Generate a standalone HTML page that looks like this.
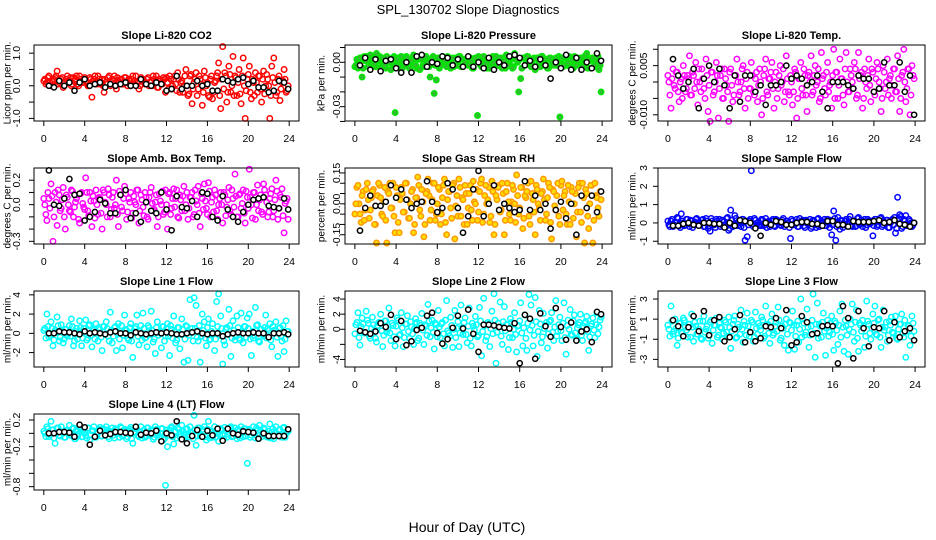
<!DOCTYPE html>
<html><head><meta charset="utf-8"><title>SPL_130702 Slope Diagnostics</title>
<style>
html,body{margin:0;padding:0;background:#fff;}
svg{display:block;font-family:"Liberation Sans",Arial,sans-serif;}
</style></head>
<body>
<svg id="chart" width="936" height="540" viewBox="0 0 936 540" xmlns="http://www.w3.org/2000/svg">
<rect x="0" y="0" width="936" height="540" fill="#fff"/>
<text x="468" y="14" text-anchor="middle" font-size="13">SPL_130702  Slope Diagnostics</text>
<text x="467" y="532" text-anchor="middle" font-size="14">Hour of Day (UTC)</text>
</svg>
<script>
const colHours = [0.1,0.3,0.5,0.7,0.9,1.1,1.3,1.5,1.7,1.9,2.1,2.3,2.5,2.7,2.9,3.1,3.3,3.5,3.7,3.9,4.1,4.3,4.5,4.7,4.9,5.1,5.3,5.5,5.7,5.9,6.1,6.3,6.5,6.7,6.9,7.1,7.3,7.5,7.7,7.9,8.1,8.3,8.5,8.7,8.9,9.1,9.3,9.5,9.7,9.9,10.1,10.3,10.5,10.7,10.9,11.1,11.3,11.5,11.7,11.9,12.1,12.3,12.5,12.7,12.9,13.1,13.3,13.5,13.7,13.9,14.1,14.3,14.5,14.7,14.9,15.1,15.3,15.5,15.7,15.9,16.1,16.3,16.5,16.7,16.9,17.1,17.3,17.5,17.7,17.9,18.1,18.3,18.5,18.7,18.9,19.1,19.3,19.5,19.7,19.9,20.1,20.3,20.5,20.7,20.9,21.1,21.3,21.5,21.7,21.9,22.1,22.3,22.5,22.7,22.9,23.1,23.3,23.5,23.7,23.9];
const colHours2 = [0.0,0.2,0.4,0.6,0.8,1.0,1.2,1.4,1.6,1.8,2.0,2.2,2.4,2.6,2.8,3.0,3.2,3.4,3.6,3.8,4.0,4.2,4.4,4.6,4.8,5.0,5.2,5.4,5.6,5.8,6.0,6.2,6.4,6.6,6.8,7.0,7.2,7.4,7.6,7.8,8.0,8.2,8.4,8.6,8.8,9.0,9.2,9.4,9.6,9.8,10.0,10.2,10.4,10.6,10.8,11.0,11.2,11.4,11.6,11.8,12.0,12.2,12.4,12.6,12.8,13.0,13.2,13.4,13.6,13.8,14.0,14.2,14.4,14.6,14.8,15.0,15.2,15.4,15.6,15.8,16.0,16.2,16.4,16.6,16.8,17.0,17.2,17.4,17.6,17.8,18.0,18.2,18.4,18.6,18.8,19.0,19.2,19.4,19.6,19.8,20.0,20.2,20.4,20.6,20.8,21.0,21.2,21.4,21.6,21.8,22.0,22.2,22.4,22.6,22.8,23.0,23.2,23.4,23.6,23.8];
const blkHours = [0.5,1.0,1.5,2.0,2.5,3.0,3.5,4.0,4.5,5.0,5.5,6.0,6.5,7.0,7.5,8.0,8.5,9.0,9.5,10.0,10.5,11.0,11.5,12.0,12.5,13.0,13.5,14.0,14.5,15.0,15.5,16.0,16.5,17.0,17.5,18.0,18.5,19.0,19.5,20.0,20.5,21.0,21.5,22.0,22.5,23.0,23.5,23.9];
const xTicks = [0,4,8,12,16,20,24];

const co2Col = [0.2,0.1,0.3,0.0,0.15,0.25,0.45,0.1,0.2,-0.05, 0.1,0.3,0.15,0.0,0.25,0.2,0.05,0.3,0.1,0.2, 0.15,0.0,0.25,-0.35,0.2,0.1,0.3,0.05,0.2,-0.2, 0.1,0.25,0.0,0.2,0.3,-0.1,0.15,0.2,0.05,0.25, 0.1,0.2,0.0,0.3,0.15,0.1,-0.1,0.25,0.2,0.05, 0.2,0.0,0.15,0.3,0.1,-0.05,0.2,0.1,0.25,-0.2, 0.1,0.3,-0.1,0.2,0.05,0.4,-0.2,0.15,0.0,0.5, -0.3,0.3,-0.55,0.1,0.4,-0.1,0.2,-0.6,0.45,0.0, -0.3,0.2,-0.4,0.1,0.3,0.7,-0.7,1.2,0.4,-0.5, 0.6,-0.2,0.9,0.3,-0.3,0.5,-0.55,0.85,-1.0,0.2, 0.6,-0.4,0.1,0.4,-0.2,0.3,-0.5,0.45,0.0,0.2, -1.0,0.6,0.85,-0.3,0.2,-0.45,0.1,0.5,-0.2,0.0];
const co2Col2 = [0.15,0.05,0.25,0.1,0.0,0.2,0.3,0.05,0.15,0.25, 0.0,0.2,0.1,0.25,0.05,0.15,0.3,0.0,0.2,0.1, 0.25,0.1,0.0,0.2,0.15,0.3,0.05,0.2,0.1,0.0, 0.2,0.05,0.3,0.1,0.15,0.0,0.25,0.1,0.2,0.05, 0.25,0.0,0.15,0.2,0.05,0.3,0.1,0.0,0.2,0.15, 0.05,0.25,0.1,0.0,0.2,0.3,-0.05,0.15,0.05,0.2, 0.25,-0.1,0.2,0.0,0.3,-0.15,0.2,0.1,-0.2,0.3, 0.0,-0.25,0.35,-0.1,0.2,-0.3,0.3,0.05,-0.2,0.25, 0.1,-0.35,0.3,-0.2,0.15,0.4,-0.3,0.2,-0.1,0.3, -0.2,0.35,0.0,-0.3,0.25,0.1,-0.25,0.3,0.0,-0.15, 0.35,-0.2,0.2,-0.3,0.1,0.3,-0.1,0.2,-0.25,0.35, 0.0,-0.3,0.25,0.1,-0.2,0.3,-0.1,0.15,0.2,-0.15];
const co2Blk = [0.0,-0.05,0.15,0.0,0.1,-0.15,0.1,0.2,0.0,0.05,0.1,-0.05,0.05,0.0,0.05,0.1,0.0,0.0,0.2,0.05,0.0,0.1,0.05,-0.15,-0.1,0.3,-0.1,0.0,0.0,0.15,0.0,0.05,-0.15,-0.15,0.2,0.15,0.1,0.2,0.25,0.05,0.15,-0.05,-0.05,-0.2,-0.15,0.15,0.1,-0.1];

const presCol = [-0.002,-0.004,0.003,-0.01,0.004,0.001,-0.003,0.005,0.002,-0.001, 0.006,0.002,-0.004,0.003,-0.002,0.004,0.000,-0.005,0.003,-0.034, 0.002,-0.003,0.004,0.000,-0.002,0.003,-0.004,0.001,0.005,-0.002, 0.003,-0.005,0.002,-0.003,0.004,0.000,-0.01,0.002,-0.021,-0.012, 0.003,-0.002,0.004,0.001,-0.003,0.002,-0.004,0.003,0.000,-0.002, 0.004,-0.003,0.002,0.000,0.003,-0.002,0.001,-0.004,0.003,-0.036, 0.002,-0.003,0.004,-0.001,0.002,-0.004,0.003,0.000,0.004,-0.002, 0.003,-0.004,0.001,0.005,-0.002,0.003,-0.004,0.006,0.002,-0.02, -0.011,0.003,-0.002,0.004,0.001,-0.003,0.002,-0.005,0.003,0.000, 0.004,-0.002,0.002,-0.004,0.003,0.000,-0.002,0.003,0.001,-0.037, 0.003,-0.002,0.004,0.000,-0.003,0.002,0.004,-0.002,0.001,0.003, -0.003,0.004,0.006,0.002,-0.004,0.003,-0.002,0.004,-0.005,-0.02];
const presCol2 = [-0.003,0.002,-0.001,0.003,-0.004,0.001,0.004,-0.002,0.000,0.003, -0.003,0.001,0.004,-0.002,0.002,-0.004,0.003,0.000,-0.001,0.004, -0.002,0.003,0.000,-0.004,0.002,0.004,-0.001,-0.003,0.003,0.001, -0.004,0.002,0.004,-0.002,0.000,0.003,-0.003,0.001,0.004,-0.002, 0.002,-0.004,0.003,0.000,-0.002,0.004,-0.001,0.002,-0.003,0.003, -0.001,0.004,-0.003,0.002,0.000,-0.002,0.003,-0.004,0.001,0.002, 0.004,-0.002,0.000,0.003,-0.004,0.002,-0.001,0.004,-0.003,0.001, -0.002,0.003,0.001,-0.004,0.004,-0.001,0.002,-0.003,0.003,0.000, 0.002,-0.004,0.003,-0.001,0.004,-0.002,0.000,0.003,-0.003,0.002, -0.003,0.004,0.000,0.002,-0.004,0.003,-0.001,0.002,-0.002,0.004, 0.001,-0.003,0.003,-0.002,0.004,0.000,-0.004,0.002,0.003,-0.001, 0.002,-0.002,0.004,-0.004,0.001,0.003,-0.003,0.000,0.004,-0.002];
const presBlk = [-0.002,0.003,-0.005,0.002,-0.006,0.001,0.002,-0.004,-0.007,0.000,-0.007,0.004,0.005,-0.003,0.000,-0.001,0.004,0.003,-0.002,0.002,-0.003,0.004,-0.003,0.000,-0.004,0.003,-0.005,0.000,-0.002,0.004,0.005,0.003,-0.002,0.001,-0.003,0.002,-0.002,-0.011,0.000,-0.004,0.005,-0.005,0.003,-0.005,0.000,-0.004,0.006,0.001];

const tempCol = [0.000,-0.008,0.004,-0.002,0.003,-0.006,0.001,0.005,-0.003,0.002, 0.008,-0.004,0.002,0.006,-0.007,0.000,0.004,-0.002,0.007,-0.009, -0.012,0.003,-0.003,0.006,-0.011,0.002,-0.005,0.004,-0.001,-0.012, 0.004,-0.006,0.002,0.007,-0.004,0.000,0.005,-0.008,0.003,-0.002, 0.006,-0.003,0.001,-0.006,0.004,-0.010,0.002,0.007,-0.004,0.001, 0.006,-0.008,0.003,-0.002,0.005,0.000,-0.006,0.008,-0.003,0.002, -0.007,0.004,-0.011,0.001,0.006,-0.004,0.002,-0.009,0.003,0.008, -0.003,0.005,0.000,-0.006,0.009,0.002,-0.004,0.006,-0.001,-0.008, 0.010,0.003,-0.005,0.007,0.001,-0.007,0.009,-0.003,0.004,0.000, 0.006,-0.005,0.009,0.002,-0.008,0.004,-0.002,0.007,-0.006,0.003, -0.004,0.006,0.000,-0.009,0.005,-0.002,0.007,0.001,-0.005,0.004, -0.003,0.008,-0.009,0.002,0.010,-0.006,0.004,-0.010,0.005,0.001];
const tempCol2 = [0.002,-0.004,0.001,-0.001,0.003,-0.003,0.000,-0.005,0.002,-0.002, 0.001,-0.004,0.003,-0.002,0.000,0.004,-0.003,0.001,-0.005,0.002, -0.001,0.003,-0.004,0.000,0.002,-0.002,0.004,-0.005,0.001,-0.003, 0.003,-0.001,-0.004,0.002,0.000,-0.003,0.004,-0.002,0.001,-0.005, -0.002,0.002,-0.004,0.003,-0.001,0.000,-0.005,0.004,-0.003,0.001, 0.003,-0.002,0.000,-0.005,0.002,-0.001,0.004,-0.003,0.001,-0.004, 0.000,-0.003,0.003,-0.005,0.001,-0.002,0.004,-0.004,0.002,0.000, -0.004,0.002,-0.001,0.004,-0.005,0.001,-0.002,0.003,-0.003,0.000, 0.002,-0.005,0.003,-0.001,0.001,-0.004,0.004,0.000,-0.003,0.002, -0.002,0.004,-0.004,0.001,0.003,-0.005,0.000,0.002,-0.001,0.004, -0.003,0.001,0.004,-0.002,-0.005,0.003,0.000,-0.004,0.002,-0.001, 0.004,-0.003,0.001,-0.005,0.003,0.000,-0.002,0.004,-0.004,0.002];
const tempBlk = [0.007,0.002,-0.002,0.000,0.004,-0.008,0.001,0.005,0.000,0.004,-0.001,-0.008,0.002,-0.006,0.002,0.002,-0.003,-0.001,-0.007,-0.001,-0.001,0.000,0.005,0.001,0.002,0.001,-0.001,0.000,0.002,-0.003,-0.008,0.000,0.000,0.000,-0.001,-0.002,0.002,0.001,0.001,-0.003,-0.002,0.006,-0.001,-0.001,0.006,-0.003,0.002,-0.010];

const ambCol = [0.0,-0.13,0.05,0.17,-0.3,0.1,-0.17,0.08,-0.03,0.14, -0.2,0.06,-0.05,0.12,-0.1,0.02,0.08,-0.15,0.1,-0.02, 0.22,-0.05,0.1,-0.18,0.03,0.12,-0.08,0.05,-0.2,0.1, 0.0,0.13,-0.1,0.06,-0.03,0.2,-0.18,0.08,-0.05,0.15, -0.12,0.05,0.1,-0.07,0.02,0.12,-0.15,0.08,-0.02,0.1, -0.1,0.06,0.14,-0.05,0.02,-0.18,0.09,0.0,-0.08,0.12, -0.2,0.1,-0.03,0.13,0.05,-0.1,0.08,-0.05,0.15,0.0, -0.12,0.06,0.1,-0.08,0.03,0.15,-0.18,0.05,0.17,-0.03, 0.18,-0.1,0.06,0.12,-0.05,0.0,0.1,-0.15,0.08,-0.02, 0.14,-0.08,0.05,0.25,-0.1,0.08,-0.03,0.12,-0.15,0.06, 0.29,0.0,0.1,-0.12,0.16,0.04,-0.06,0.17,0.08,-0.1, 0.05,0.13,-0.05,0.2,-0.12,0.08,0.13,-0.23,0.03,-0.12];
const ambCol2 = [0.05,-0.08,0.1,-0.03,0.07,-0.1,0.02,0.12,-0.05,0.04, -0.1,0.08,0.0,-0.06,0.11,-0.02,0.05,-0.12,0.09,0.01, -0.04,0.1,-0.09,0.03,0.07,-0.11,0.0,0.06,-0.07,0.12, 0.02,-0.1,0.08,-0.04,0.1,0.0,-0.08,0.11,-0.02,0.05, 0.09,-0.06,0.02,-0.11,0.07,0.0,0.12,-0.05,0.04,-0.09, 0.06,-0.12,0.1,0.01,-0.04,0.08,-0.1,0.03,0.11,-0.06, 0.0,0.09,-0.08,0.05,-0.02,0.12,-0.11,0.04,0.07,-0.05, 0.1,-0.03,0.06,-0.1,0.12,0.0,-0.07,0.09,-0.04,0.03, -0.08,0.11,0.02,-0.06,0.08,-0.12,0.05,0.0,0.1,-0.09, 0.04,-0.05,0.12,-0.02,0.07,-0.1,0.09,0.01,-0.07,0.11, -0.03,0.06,-0.11,0.1,0.0,-0.05,0.08,-0.08,0.12,0.02, -0.06,0.09,-0.1,0.04,0.11,-0.03,0.06,-0.09,0.01,0.05];
const ambBlk = [0.28,0.0,-0.01,0.05,0.21,0.08,0.09,-0.13,-0.1,-0.06,0.04,0.01,-0.07,-0.07,0.08,0.12,-0.11,-0.07,-0.14,0.02,-0.05,-0.07,0.1,-0.04,-0.21,0.07,-0.02,-0.03,0.03,-0.1,0.1,0.09,-0.1,-0.13,0.07,-0.04,-0.1,-0.14,-0.06,0.0,0.04,0.05,0.06,-0.01,-0.02,-0.03,0.05,-0.04];

const rhCol = [0.0,0.09,-0.05,0.04,-0.08,0.07,0.02,-0.03,0.06,-0.1, -0.19,0.1,0.03,-0.06,0.08,-0.19,0.05,-0.02,0.1,-0.14, 0.04,-0.14,0.08,-0.04,0.1,0.02,-0.07,0.06,-0.14,0.03, 0.13,-0.03,0.07,-0.16,0.05,0.12,-0.08,0.02,0.1,-0.05, 0.08,-0.1,0.03,0.12,-0.15,0.06,-0.02,0.09,-0.17,0.04, 0.12,-0.06,0.02,0.09,-0.1,0.05,-0.03,0.11,0.0,-0.08, 0.06,0.12,-0.05,0.09,0.02,-0.09,0.11,-0.15,0.04,0.08, -0.04,0.1,-0.15,0.06,0.01,-0.08,0.09,0.0,0.14,-0.05, 0.08,-0.12,0.04,0.06,-0.06,0.11,0.02,-0.15,0.07,-0.02, 0.05,0.12,-0.08,0.03,0.08,-0.17,0.06,-0.03,0.1,-0.1, 0.11,0.04,-0.05,0.09,-0.1,0.06,0.0,-0.16,0.08,-0.04, 0.1,-0.19,0.05,-0.12,0.09,-0.19,0.1,0.03,-0.06,0.02];
const rhCol2 = [-0.05,0.08,0.0,-0.09,0.06,-0.03,0.1,-0.07,0.03,0.07, -0.1,0.04,0.09,-0.05,0.01,-0.08,0.06,0.1,-0.02,-0.06, 0.08,-0.09,0.02,0.05,-0.04,0.1,-0.07,0.0,0.07,-0.1, 0.03,0.09,-0.06,0.01,-0.1,0.06,0.04,-0.03,0.1,-0.08, 0.0,0.07,-0.05,0.09,-0.09,0.02,0.06,-0.07,0.1,-0.01, -0.06,0.08,0.03,-0.1,0.05,-0.02,0.09,-0.08,0.01,0.07, -0.04,0.1,-0.09,0.04,0.0,0.08,-0.06,0.06,-0.1,0.02, 0.09,-0.03,0.05,-0.08,0.1,-0.05,0.01,0.07,-0.09,0.04, -0.02,0.08,-0.07,0.03,0.1,-0.1,0.05,-0.04,0.09,0.0, -0.08,0.06,0.02,-0.05,0.1,-0.09,0.07,-0.01,0.04,-0.06, 0.09,-0.03,0.06,-0.1,0.01,0.08,-0.07,0.05,-0.04,0.1, -0.09,0.03,0.07,-0.06,0.0,0.09,-0.08,0.04,-0.02,0.06];
const rhBlk = [-0.13,-0.02,0.04,-0.01,-0.01,0.01,0.09,0.03,0.07,0.02,-0.02,0.00,0.01,0.11,0.01,-0.04,-0.02,0.1,0.07,-0.02,-0.14,-0.06,0.07,0.16,-0.06,0.00,0.09,-0.03,0.00,-0.02,-0.04,-0.03,0.11,-0.03,0.04,-0.03,0.00,-0.12,-0.03,0.01,-0.07,0.00,-0.15,0.04,-0.02,0.04,-0.04,0.06];

const sampCol = [-0.1,0.1,-0.2,0.05,0.3,-0.15,0.5,0.0,-0.1,0.2, -0.2,0.1,-0.05,0.2,-0.1,0.0,0.15,-0.2,0.25,-0.3, -0.45,0.1,-0.1,0.2,0.0,-0.2,0.15,-0.1,0.25,-0.4, 0.7,-0.2,0.4,0.0,0.1,-0.2,0.2,-0.95,-0.75,0.1, 2.85,-0.2,0.15,0.0,-0.1,0.2,-0.15,0.25,0.0,-0.2, 0.1,-0.15,0.2,0.0,-0.1,0.15,-0.2,0.1,0.0,-0.85, 0.1,-0.1,0.2,-0.2,0.05,0.15,-0.25,0.1,0.0,-0.3, 0.15,-0.1,0.2,-0.2,0.1,0.0,-0.15,0.2,-0.25,-0.65, 0.65,-0.95,0.3,-0.35,0.1,-0.1,0.2,0.0,0.35,-0.2, 0.1,-0.15,0.3,0.0,-0.2,0.2,-0.1,0.1,0.0,-0.7, 0.2,-0.2,0.1,0.3,-0.1,0.0,0.15,-0.25,0.1,-0.1, -0.55,1.4,0.45,-0.3,0.2,0.4,-0.1,0.1,-0.2,0.0];
const sampCol2 = [0.1,-0.2,0.2,-0.1,0.0,0.25,-0.25,0.1,-0.15,0.2, -0.05,0.15,-0.25,0.05,0.25,-0.1,0.0,0.2,-0.2,0.1, -0.15,0.25,0.0,-0.25,0.1,0.2,-0.1,0.05,-0.2,0.3, -0.3,0.15,-0.05,0.25,-0.15,0.0,0.2,-0.25,0.1,-0.1, 0.2,-0.05,0.25,-0.2,0.05,-0.15,0.15,0.0,-0.25,0.1, -0.1,0.2,-0.2,0.15,0.0,-0.15,0.25,-0.05,0.1,-0.25, 0.2,-0.1,0.05,-0.2,0.25,0.0,-0.15,0.15,-0.05,0.2, -0.2,0.1,-0.25,0.25,-0.1,0.05,0.2,-0.15,0.0,0.15, -0.1,0.25,-0.2,0.0,0.15,-0.25,0.1,-0.05,0.2,-0.15, 0.05,-0.2,0.25,-0.1,0.15,0.0,-0.25,0.2,-0.05,0.1, -0.15,0.2,-0.1,0.25,-0.2,0.05,0.15,-0.25,0.0,0.2, 0.3,-0.3,0.25,0.35,-0.2,0.1,-0.15,0.2,0.0,-0.1];
const sampBlk = [-0.15,-0.15,-0.05,0.0,-0.1,-0.15,0.0,0.0,-0.05,-0.05,-0.25,0.0,-0.15,0.15,0.1,0.0,-0.3,-0.7,0.0,-0.1,0.1,0.05,-0.1,-0.1,0.0,0.05,0.05,-0.05,-0.05,-0.15,0.1,0.1,-0.1,-0.1,-0.2,0.1,0.05,0.05,0.05,0.1,0.15,0.0,0.05,0.15,-0.05,-0.1,-0.2,0.0];

const l1Col = [0.5,2.0,-0.4,1.2,-1.3,0.3,1.7,-0.8,0.9,-1.0, 0.4,-0.3,0.8,1.5,-1.3,0.2,-0.6,1.3,-1.3,0.5, 1.4,-0.5,0.9,-1.4,0.3,1.0,-0.8,0.4,-1.8,0.7, 1.2,-0.3,2.2,-1.0,0.6,-1.8,1.0,0.2,-1.5,1.9, 0.3,-0.7,1.0,-2.5,0.5,1.9,-1.2,0.8,2.1,-0.5, -1.4,0.6,2.3,-0.9,-2.1,1.2,0.1,-1.5,0.7,-0.3, 1.0,-2.3,0.4,1.8,-1.0,0.6,-1.6,1.5,-3.0,0.8, -2.8,3.5,0.5,3.7,2.9,-0.8,-3.0,2.0,1.2,-1.3, 1.5,-0.6,1.0,-1.8,3.3,4.1,1.8,-3.2,-1.2,0.6, 2.5,-2.4,1.3,-0.7,1.8,-0.5,2.1,-1.0,0.7,1.6, 2.0,-2.3,-0.5,2.7,0.9,-0.9,0.4,-0.3,1.9,0.5, 1.0,-1.4,0.3,1.2,-2.4,0.6,-0.8,-1.9,1.3,0.2];
const l1Col2 = [0.3,-0.5,0.7,-0.2,0.5,-0.7,0.1,0.8,-0.4,0.2, -0.6,0.4,0.0,-0.3,0.7,-0.8,0.5,-0.1,0.6,-0.5, 0.2,-0.7,0.8,-0.2,0.4,-0.6,0.1,0.6,-0.4,0.7, -0.1,0.5,-0.8,0.3,-0.3,0.7,0.0,-0.6,0.8,-0.2, 0.4,-0.5,0.6,-0.8,0.1,0.7,-0.3,0.2,-0.7,0.5, -0.4,0.8,-0.1,0.3,-0.6,0.6,-0.2,0.0,0.7,-0.8, 0.5,-0.3,0.8,-0.5,0.2,-0.7,0.6,-0.1,0.4,-0.6, 0.7,-0.2,0.1,-0.8,0.5,-0.4,0.8,-0.3,0.3,-0.5, 0.6,-0.7,0.2,0.0,-0.6,0.7,-0.2,0.5,-0.8,0.4, -0.1,0.8,-0.5,0.3,-0.3,0.6,-0.7,0.1,0.7,-0.4, 0.5,-0.6,0.2,-0.2,0.8,-0.8,0.4,-0.1,0.6,-0.5, 0.3,-0.7,0.7,0.0,-0.4,0.5,-0.3,0.8,-0.6,0.2];
const l1Blk = [0.0,0.0,0.2,0.1,0.1,0.0,-0.1,0.2,0.0,0.1,0.0,-0.1,0.1,0.2,0.0,0.0,-0.2,0.1,0.0,-0.1,0.0,0.1,0.0,0.1,0.0,-0.1,-0.1,0.0,0.1,0.2,0.0,-0.1,0.0,0.0,-0.3,-0.1,0.0,0.1,0.0,0.0,0.1,0.0,0.0,-0.4,0.0,0.0,0.1,-0.1];

const l2Col = [0.6,2.2,-2.1,1.5,-0.5,2.4,0.8,-1.2,1.6,-0.3, -1.7,0.9,2.0,-2.3,1.1,-0.4,2.8,-1.5,0.5,-2.2, 1.5,-0.8,2.2,-2.3,0.7,1.8,-1.2,0.3,-2.0,1.4, -1.5,0.8,2.1,-2.0,0.4,3.3,-1.0,1.2,-2.6,0.6, 2.5,-1.1,0.9,-2.2,3.8,-0.5,1.6,-2.4,2.5,0.1, -2.3,3.2,-0.7,1.5,-1.8,2.8,-2.2,0.4,1.7,-1.0, 2.9,-3.5,4.1,-1.5,0.9,-2.3,2.4,4.7,-4.5,0.8, 3.6,-2.0,3.0,0.6,-2.7,1.4,-1.1,2.2,-3.0,0.5, 3.5,-2.2,1.9,-2.8,4.6,3.2,-2.2,4.2,-3.6,2.5, -1.8,2.1,0.5,-2.5,1.0,2.2,-1.5,3.8,-0.3,1.6, -1.5,3.5,-3.3,1.2,2.6,-0.8,1.9,-1.3,0.6,2.0, -1.5,0.8,1.7,-2.8,0.4,1.5,-1.1,2.2,0.3,1.6];
const l2Col2 = [-0.6,0.9,-1.1,0.3,0.7,-0.4,1.2,-0.9,0.1,0.6, -1.2,0.5,0.9,-0.2,-0.8,1.1,0.0,-0.5,0.8,-1.0, 0.4,1.2,-0.7,0.2,-1.1,0.7,-0.3,1.0,-0.6,0.1, 0.9,-1.2,0.5,-0.1,0.6,-0.8,1.1,0.2,-0.4,0.8, -1.0,0.3,0.7,-0.6,1.2,-0.2,-0.9,0.5,0.0,-1.1, 1.0,-0.5,0.2,0.9,-0.7,0.4,-1.2,0.8,-0.1,0.6, -0.8,1.1,-0.3,0.5,-1.0,0.7,0.1,-0.6,1.2,-0.4, 0.3,-0.9,1.0,-0.2,0.6,-1.1,0.9,0.0,-0.7,0.4, 1.1,-0.5,0.2,-1.2,0.8,-0.1,0.5,-0.8,1.0,-0.3, 0.7,-1.0,0.1,0.9,-0.6,1.2,-0.4,0.3,-0.9,0.6, -0.2,0.8,-1.1,0.5,0.0,-0.7,1.1,-0.5,0.2,0.9, -0.8,0.4,1.0,-0.3,-1.0,0.7,-0.1,0.6,-0.6,1.2];
const l2Blk = [-0.2,-0.4,-0.6,-0.3,0.8,0.3,1.9,-1.3,1.1,-2.1,-1.6,-0.1,0.2,1.8,2.2,-0.5,-1.9,-1.3,0.2,1.8,0.1,2.6,-0.6,-3.0,0.6,0.6,0.5,0.3,0.2,0.1,0.8,-4.5,1.9,1.4,-3.9,2.1,0.4,-1.0,2.8,0.3,-1.4,0.9,-1.5,-0.3,0.0,-1.7,2.3,2.0];

const l3Col = [0.0,2.3,-0.5,1.0,-1.6,0.6,-0.3,1.1,0.2,-0.8, 0.5,1.5,-1.2,0.3,-0.5,0.8,-1.0,1.3,0.0,-0.9, 0.7,-1.4,0.4,1.1,-0.6,0.2,-1.0,0.9,-0.3,1.2, -1.9,0.5,1.3,-0.8,0.2,1.9,-1.3,0.4,1.6,-0.7, 0.9,-1.2,1.7,-0.5,0.3,1.2,-0.9,2.3,0.5,-1.4, 1.5,-0.4,0.7,2.2,-1.1,0.3,-1.6,1.0,-2.1,0.6, 1.8,-2.0,0.4,-1.3,3.0,1.0,-0.6,2.0,-1.8,0.3, 3.5,-2.8,2.6,0.5,-0.8,1.6,-2.6,0.9,-0.3,1.3, -2.1,0.6,-1.5,1.8,2.5,-2.2,0.3,-2.5,1.0,2.5, -1.2,1.9,-2.2,0.4,0.9,-1.8,2.8,0.5,-1.0,1.5, 2.3,-0.6,1.0,-1.8,1.9,0.2,-1.2,0.8,1.2,-0.4, 1.3,-1.0,0.5,1.5,-0.8,-2.8,0.4,-1.6,1.3,-0.2];
const l3Col2 = [0.4,-0.7,0.8,-0.2,0.1,-0.9,0.6,-0.4,0.9,-0.1, 0.5,-0.8,0.2,0.7,-0.5,0.0,-0.9,0.8,-0.3,0.3, -0.6,0.9,-0.1,0.4,-0.8,0.6,0.1,-0.4,0.7,-0.7, 0.2,-0.2,0.9,-0.9,0.5,-0.5,0.0,0.8,-0.6,0.3, -0.3,0.7,-0.8,0.1,0.6,-0.1,0.9,-0.7,0.4,-0.4, 0.8,-0.6,0.3,-0.2,0.9,-0.9,0.1,0.5,-0.5,0.7, -0.1,0.4,-0.7,0.8,0.0,-0.8,0.6,-0.3,0.2,-0.6, 0.9,-0.4,0.5,-0.9,0.3,0.7,-0.2,0.1,-0.7,0.6, -0.5,0.8,-0.1,0.4,-0.8,0.2,0.9,-0.6,0.0,0.5, -0.3,0.7,-0.9,0.6,-0.2,0.3,-0.7,0.8,-0.4,0.1, 0.6,-0.5,0.9,-0.8,0.2,-0.1,0.7,-0.6,0.4,-0.3, 0.8,-0.9,0.0,0.5,-0.4,0.9,-0.2,0.3,-0.7,0.6];
const l3Blk = [0.9,0.3,-0.7,0.2,1.3,-0.2,1.8,-0.6,0.9,1.2,-1.2,-0.8,0.0,1.4,-1.3,-0.3,-1.2,-0.9,0.3,0.2,1.1,0.1,1.9,-1.6,-1.3,1.3,0.7,-0.5,-0.4,0.3,0.4,0.3,-3.4,2.3,1.1,-2.9,1.8,0.1,-1.7,0.2,0.1,1.8,-1.1,0.7,-0.8,-0.2,0.1,-1.1];

const l4Col = [0.0,0.1,-0.05,0.18,0.05,-0.15,0.08,-0.03,0.1,0.0, -0.06,0.05,0.12,-0.02,0.08,-0.08,0.03,0.1,-0.05,0.06, -0.03,0.08,-0.1,0.04,0.1,-0.06,0.02,0.09,-0.04,0.05, 0.1,-0.05,0.03,0.08,-0.07,0.05,0.0,0.1,-0.04,0.06, -0.08,0.04,0.09,-0.15,0.02,0.07,-0.05,0.1,0.0,-0.06, 0.08,-0.03,0.05,-0.09,0.1,0.0,-0.05,0.07,-0.1,-0.78, -0.2,0.05,0.1,-0.16,0.03,0.08,-0.05,0.12,-0.02,0.06, -0.05,0.1,0.0,0.27,-0.18,0.08,-0.04,0.06,0.1,-0.1, 0.18,0.04,-0.06,0.1,0.0,-0.12,0.07,-0.03,0.09,-0.06, 0.05,0.1,-0.04,0.08,-0.08,0.03,0.1,-0.05,0.07,-0.45, 0.06,-0.03,0.1,-0.07,0.04,0.12,-0.05,0.08,0.0,-0.06, 0.14,0.02,-0.08,0.1,-0.03,0.06,-0.06,0.09,0.0,0.03];
const l4Col2 = [0.03,-0.05,0.07,-0.02,0.05,-0.07,0.0,0.08,-0.04,0.02, -0.06,0.04,0.01,-0.03,0.07,-0.08,0.05,-0.01,0.06,-0.05, 0.02,-0.07,0.08,-0.02,0.04,-0.06,0.01,0.06,-0.04,0.07, -0.01,0.05,-0.08,0.03,-0.03,0.07,0.0,-0.06,0.08,-0.02, 0.04,-0.05,0.06,-0.08,0.01,0.07,-0.03,0.02,-0.07,0.05, -0.04,0.08,-0.01,0.03,-0.06,0.06,-0.02,0.0,0.07,-0.08, 0.05,-0.03,0.08,-0.05,0.02,-0.07,0.06,-0.01,0.04,-0.06, 0.07,-0.02,0.01,-0.08,0.05,-0.04,0.08,-0.03,0.03,-0.05, 0.06,-0.07,0.02,0.0,-0.06,0.07,-0.02,0.05,-0.08,0.04, -0.01,0.08,-0.05,0.03,-0.03,0.06,-0.07,0.01,0.07,-0.04, 0.05,-0.06,0.02,-0.02,0.08,-0.08,0.04,-0.01,0.06,-0.05, 0.03,-0.07,0.07,0.0,-0.04,0.05,-0.03,0.08,-0.06,0.02];
const l4Blk = [0.0,0.0,0.02,0.02,0.01,-0.05,0.13,0.09,-0.17,-0.05,0.04,-0.03,-0.01,0.02,0.02,0.01,0.0,0.1,-0.02,0.01,0.0,0.04,-0.12,0.0,-0.03,0.18,-0.09,-0.15,-0.04,0.05,-0.05,0.04,-0.03,0.07,-0.11,0.07,0.0,-0.02,0.03,0.02,0.01,-0.08,0.0,-0.04,-0.04,-0.04,-0.04,0.06];

const panelTitles = ["Slope Li-820 CO2","Slope Li-820 Pressure","Slope Li-820 Temp.","Slope Amb. Box Temp.","Slope Gas Stream RH","Slope Sample Flow","Slope Line 1 Flow","Slope Line 2 Flow","Slope Line 3 Flow","Slope Line 4 (LT) Flow"];
const yTitles = ["Licor ppm per min.","kPa per min.","degrees C per min.","degrees C per min.","percent per min.","ml/min per min.","ml/min per min.","ml/min per min.","ml/min per min.","ml/min per min."];
const yTickVals = [[-1,-0.5,0,0.5,1],[-0.04,-0.03,-0.02,-0.01,0,0.01],[-0.01,-0.005,0,0.005,0.01],[-0.3,-0.2,-0.1,0,0.1,0.2],[-0.15,-0.1,-0.05,0,0.05,0.1,0.15],[-1,0,1,2,3],[-2,0,2,4],[-4,-2,0,2,4],[-3,-1,1,3],[-0.8,-0.6,-0.4,-0.2,0,0.2]];
const yTickLabels = [["-1.0","","0.0","","1.0"],["","-0.03","","","0.00",""],["-0.010","","","0.005",""],["-0.3","","","0.0","","0.2"],["-0.15","","","0.00","","","0.15"],["-1","0","1","2","3"],["-2","0","2","4"],["-4","","0","2","4"],["-3","-1","1","3"],["-0.8","","","-0.2","","0.2"]];
const yDomains = [[-1.08,1.25],[-0.0397,0.0117],[-0.0119,0.0113],[-0.322,0.30],[-0.195,0.174],[-1.15,3.0],[-3.5,4.4],[-5.0,5.07],[-3.76,3.8],[-0.85,0.29]];
const colSeries = [co2Col,presCol,tempCol,ambCol,rhCol,sampCol,l1Col,l2Col,l3Col,l4Col];
const colSeries2 = [co2Col2,presCol2,tempCol2,ambCol2,rhCol2,sampCol2,l1Col2,l2Col2,l3Col2,l4Col2];
const blkSeries = [co2Blk,presBlk,tempBlk,ambBlk,rhBlk,sampBlk,l1Blk,l2Blk,l3Blk,l4Blk];

const colBox = [[34,299],[345,612],[658,925]];
const rowBox = [[45,121],[168,244],[291,367],[414,490]];
const tickLblX = [17,337,644];
const yTitleX = [8,322,633];
const strokeCols = ["#ff0000","#00e600","#ff00ff","#ff00ff","#ff9900","#0000ff","#00ffff","#00ffff","#00ffff","#00ffff"];
const fillCols = ["none","#33bb33","none","none","#ffdd00","none","none","none","none","none"];
const keys = ["co2","pressure","li820-temp","amb-box-temp","gas-rh","sample-flow","line1-flow","line2-flow","line3-flow","line4-flow"];

const NS = "http://www.w3.org/2000/svg";
const svg = document.getElementById('chart');
function mk(tag, attrs, parent){const e=document.createElementNS(NS,tag);for(const k in attrs)e.setAttribute(k,attrs[k]);(parent||svg).appendChild(e);return e;}

for(let p=0;p<10;p++){
  const c=p%3, r=Math.floor(p/3);
  const [x0,x1]=colBox[c], [y0,y1]=rowBox[r];
  const xs=h=>x0+(h+0.96)/25.92*(x1-x0);
  const [ymin,ymax]=yDomains[p];
  const ys=v=>y1-(v-ymin)/(ymax-ymin)*(y1-y0);
  const g=mk('g',{});
  
  
  const t=mk('text',{x:(x0+x1)/2,y:y0-6,'text-anchor':'middle','font-size':'11','font-weight':'bold'},g);
  t.textContent=panelTitles[p];
  
  
  const yt=mk('text',{x:yTitleX[c],y:(y0+y1)/2,'text-anchor':'middle','font-size':'10',transform:`rotate(-90 ${yTitleX[c]} ${(y0+y1)/2})`,'dominant-baseline':'central'},g);
  yt.textContent=yTitles[p];
  
  
  const pts=mk('g',{},g);
  
  
  const drawCol=(hrs,vals)=>{
    for(let i=0;i<vals.length&&i<hrs.length;i++){
      const ci=mk('circle',{cx:xs(hrs[i]).toFixed(1),cy:ys(vals[i]).toFixed(1),r:2.7,fill:fillCols[p],stroke:strokeCols[p],'stroke-width':1.5},pts);
      
      
    }
  };
  drawCol(colHours2,colSeries2[p]);
  drawCol(colHours,colSeries[p]);
  const bp=mk('g',{},g);
  
  
  const bs=blkSeries[p];
  for(let i=0;i<bs.length&&i<blkHours.length;i++){
    const ci=mk('circle',{cx:xs(blkHours[i]).toFixed(1),cy:ys(bs[i]).toFixed(1),r:2.6,fill:'#fff',stroke:'#000','stroke-width':1.5},bp);
    
    
  }
  const box=mk('rect',{x:x0,y:y0,width:x1-x0,height:y1-y0,fill:'none',stroke:'#000','stroke-width':1},g);
  
  
  const xa=mk('g',{},g);
  
  
  mk('line',{x1:xs(xTicks[0]),x2:xs(xTicks[xTicks.length-1]),y1:y1,y2:y1,stroke:'#000'},xa);
  xTicks.forEach(v=>{
    const X=xs(v);
    mk('line',{x1:X,x2:X,y1:y1,y2:y1+5,stroke:'#000'},xa);
    const tl=mk('text',{x:X,y:y1+21,'text-anchor':'middle','font-size':'10.5'},xa);
    tl.textContent=String(v);
    
    
  });
  const ya=mk('g',{},g);
  
  
  const tv=yTickVals[p], tls=yTickLabels[p];
  mk('line',{x1:x0,x2:x0,y1:ys(tv[0]),y2:ys(tv[tv.length-1]),stroke:'#000'},ya);
  tv.forEach((v,i)=>{
    const Y=ys(v);
    mk('line',{x1:x0-5,x2:x0,y1:Y,y2:Y,stroke:'#000'},ya);
    if(tls[i]){
      const lx=tickLblX[c];
      const tl=mk('text',{x:lx,y:Y,'text-anchor':'middle','font-size':'10.5','dominant-baseline':'central',transform:`rotate(-90 ${lx} ${Y})`},ya);
      tl.textContent=tls[i];
      
      
    }
  });
}
</script>
</body></html>
